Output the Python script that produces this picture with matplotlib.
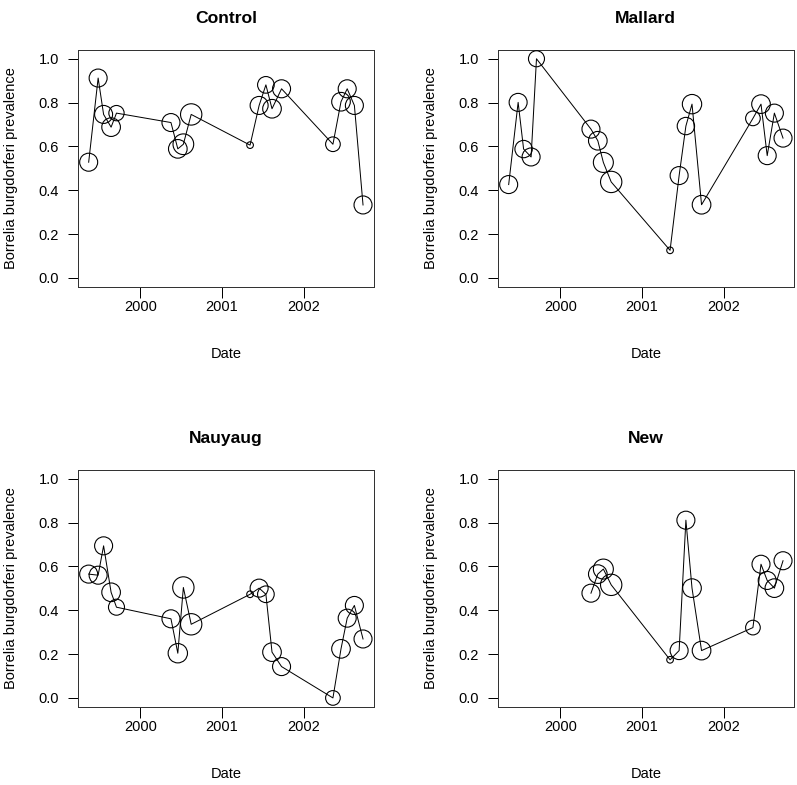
import matplotlib
matplotlib.use("Agg")
import matplotlib.pyplot as plt
import numpy as np

plt.rcParams['font.family'] = ['Liberation Sans', 'DejaVu Sans']

# Sampling dates (decimal years), shared by all sites
dates = [1999.365, 1999.481, 1999.548, 1999.640, 1999.706,
         2000.374, 2000.458, 2000.526, 2000.622,
         2001.344, 2001.455, 2001.538, 2001.613, 2001.730,
         2002.360, 2002.459, 2002.535, 2002.623, 2002.729]

control = [0.528, 0.912, 0.746, 0.688, 0.752, 0.709, 0.589, 0.610, 0.746,
           0.606, 0.787, 0.881, 0.772, 0.863, 0.610, 0.804, 0.863, 0.787, 0.333]
mallard = [0.426, 0.801, 0.588, 0.552, 1.000, 0.679, 0.626, 0.527, 0.438,
           0.126, 0.467, 0.693, 0.793, 0.334, 0.728, 0.793, 0.558, 0.752, 0.638]
nauyaug = [0.565, 0.560, 0.694, 0.482, 0.414, 0.361, 0.204, 0.504, 0.336,
           0.473, 0.501, 0.473, 0.209, 0.143, 0.000, 0.224, 0.364, 0.422, 0.269]
new_dates = dates[5:]
new = [0.478, 0.565, 0.588, 0.516, 0.174, 0.216, 0.811, 0.501, 0.216,
       0.321, 0.610, 0.536, 0.501, 0.626]

# relative symbol sizes (cex), proportional to sample size
cex_control = [2.0, 2.0, 2.0, 2.07, 1.7, 2.0, 2.07, 2.3, 2.37,
               0.74, 2.0, 1.85, 2.07, 2.0, 1.63, 2.07, 2.0, 2.0, 2.0]
cex_mallard = [2.0, 2.0, 1.93, 2.0, 1.78, 2.0, 2.07, 2.22, 2.37,
               0.74, 2.0, 1.93, 2.15, 2.07, 1.63, 2.07, 2.0, 2.0, 2.0]
cex_nauyaug = [2.0, 2.0, 2.0, 2.07, 1.78, 2.0, 2.15, 2.37, 2.37,
               0.74, 2.0, 1.85, 2.07, 2.0, 1.63, 2.07, 2.0, 2.0, 2.0]
cex_new = [2.0, 2.07, 2.22, 2.37, 0.74, 2.0, 2.0, 2.07, 2.07,
           1.63, 2.0, 2.0, 2.07, 2.0]

titles = ["Control", "Mallard", "Nauyaug", "New"]
series = [(dates, control, cex_control), (dates, mallard, cex_mallard),
          (dates, nauyaug, cex_nauyaug), (new_dates, new, cex_new)]
yticks = [0.0, 0.2, 0.4, 0.6, 0.8, 1.0]
xticks = [2000, 2001, 2002]

W, H = 797, 785
DPI = 100
fig = plt.figure(figsize=(W / DPI, H / DPI), dpi=DPI)
px = 72.0 / DPI  # points per pixel

# axes boxes in pixels: left, top, width, height
boxes = [(77.7, 50.0), (497.7, 50.0), (77.7, 470.0), (497.7, 470.0)]
bw, bh = 296.3, 236.7

dmin, dmax = min(dates), max(dates)
dr = dmax - dmin
xlim = (dmin - 0.04 * dr, dmax + 0.04 * dr)
ylim = (-0.04, 1.04)

FS = 14.6 * px

for (l, t), title, (xs, ys, cs) in zip(boxes, titles, series):
    ax = fig.add_axes([l / W, (H - t - bh) / H, bw / W, bh / H])
    ax.plot(xs, ys, color='black', lw=1.0 * px, zorder=2)
    sizes = [(2 * c * 4.5 * px) ** 2 for c in cs]
    ax.scatter(xs, ys, s=sizes, facecolors='none', edgecolors='black',
               linewidths=1.1 * px, zorder=3)
    ax.set_xlim(*xlim)
    ax.set_ylim(*ylim)
    ax.set_xticks(xticks)
    ax.set_xticklabels([str(x) for x in xticks])
    ax.set_yticks(yticks)
    ax.set_yticklabels([f"{v:.1f}" for v in yticks])
    ax.tick_params(axis='both', length=10.5 * px, width=1.0 * px,
                   labelsize=FS, color='black')
    ax.tick_params(axis='x', pad=3 * px)
    ax.tick_params(axis='y', pad=8 * px)
    for sp in ax.spines.values():
        sp.set_linewidth(1.0 * px)
        sp.set_color('#333333')
    ax.set_xlabel("Date", fontsize=FS, labelpad=33 * px)
    ax.set_ylabel("Borrelia burgdorferi prevalence", fontsize=FS,
                  labelpad=21 * px)
    ax.set_title(title, fontsize=17.5 * px, fontweight='bold', pad=27 * px)

fig.savefig("out.png", dpi=DPI)
